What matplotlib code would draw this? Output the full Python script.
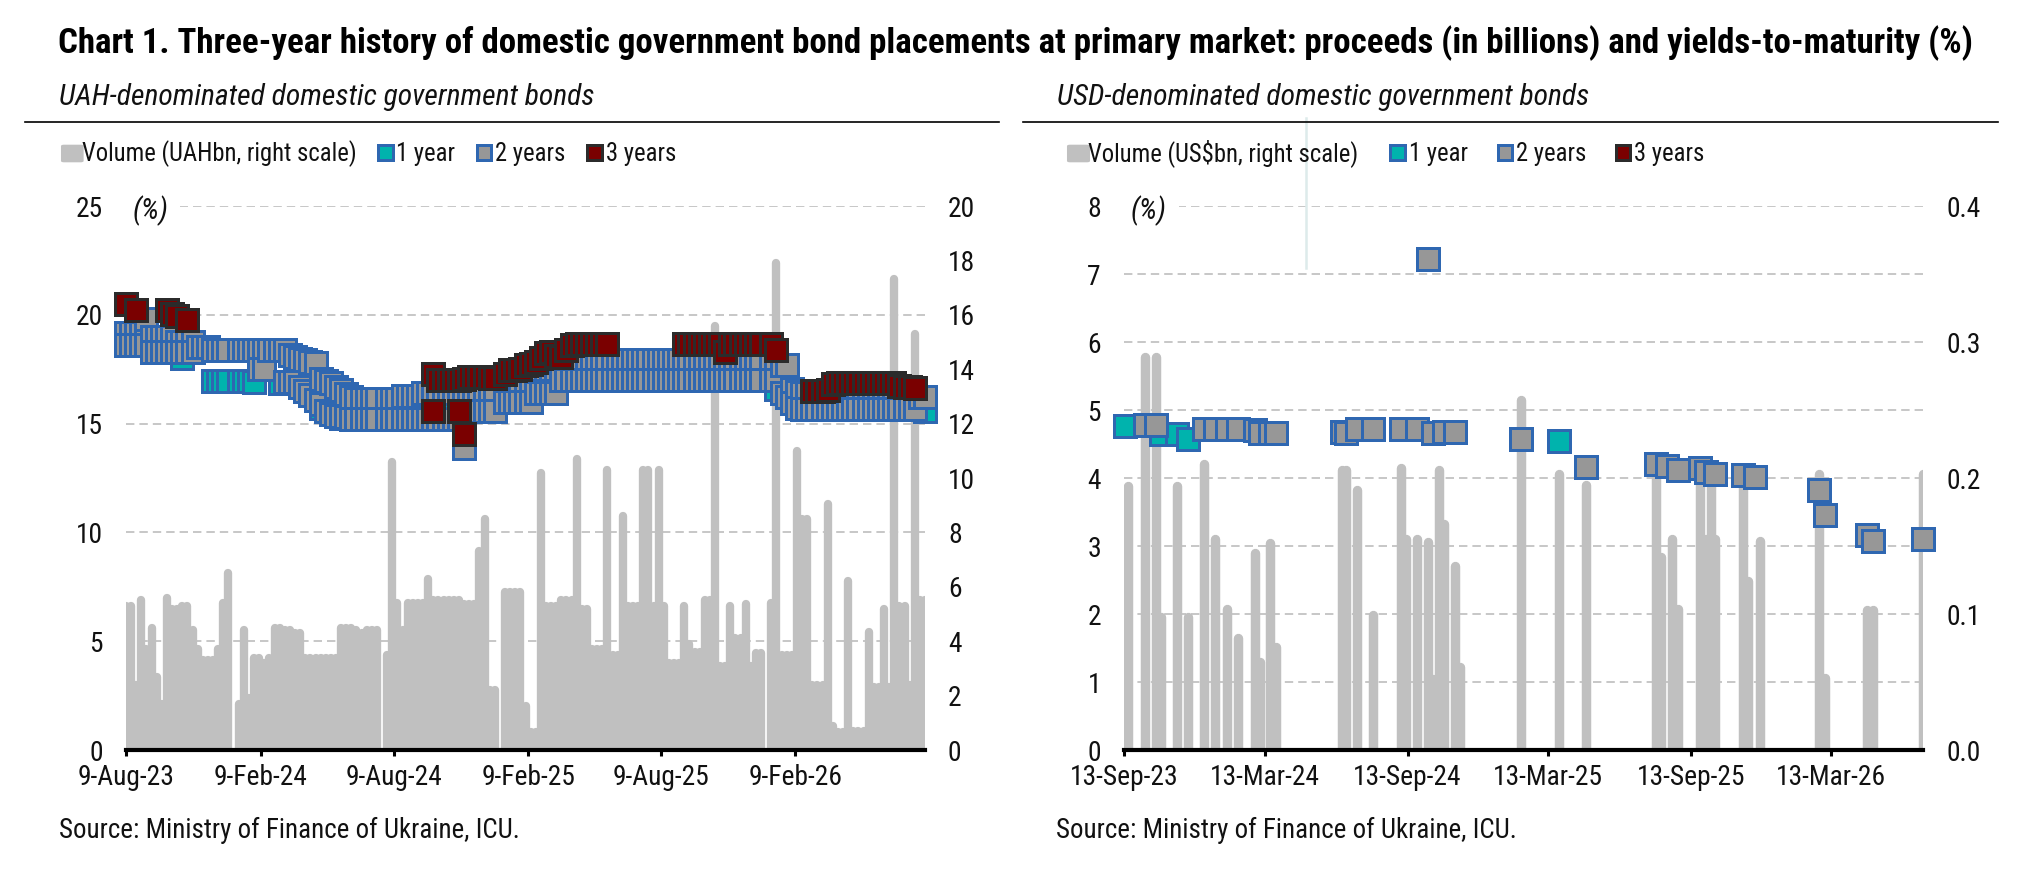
import numpy as np
import pandas as pd
import matplotlib
matplotlib.use("Agg")
import matplotlib.pyplot as plt
from matplotlib import font_manager as fm
from matplotlib.lines import Line2D
from matplotlib.patches import Rectangle, FancyBboxPatch
from matplotlib.transforms import blended_transform_factory

N = np.nan


def first_font(names):
    for n in names:
        try:
            fm.findfont(fm.FontProperties(family=n), fallback_to_default=False)
            return n
        except Exception:
            continue
    return "DejaVu Sans"


FONT = first_font(["Liberation Sans Narrow", "Roboto Condensed", "Liberation Sans"])
plt.rcParams["font.family"] = [FONT, "DejaVu Sans"]

# ======================= DATA =======================
TITLE = ("Chart 1. Three-year history of domestic government bond placements at primary market: "
         "proceeds (in billions) and yields-to-maturity (%)")
SUB_UAH = "UAH-denominated domestic government bonds"
SUB_USD = "USD-denominated domestic government bonds"
SOURCE = "Source: Ministry of Finance of Ukraine, ICU."
LEG_UAH = ["Volume (UAHbn, right scale)", "1 year", "2 years", "3 years"]
LEG_USD = ["Volume (US$bn, right scale)", "1 year", "2 years", "3 years"]

# ---- UAH panel: weekly auction calendar ----
uah_weeks = pd.date_range("2023-08-09", periods=157, freq="7D")

uah_volume = [
    5.3, 5.3, 2.4, 5.5, 3.7, 4.5, 2.7, 1.7, 5.6, 5.2,
    5.2, 5.3, 5.3, 4.4, 3.7, 3.3, 3.3, 3.3, 3.7, 5.4,
    6.5, N, 1.7, 4.4, 1.9, 3.4, 3.4, 3.2, 3.4, 4.5,
    4.5, 4.4, 4.4, 4.3, 4.3, 3.4, 3.4, 3.4, 3.4, 3.4,
    3.4, 3.4, 4.5, 4.5, 4.5, 4.4, 4.3, 4.4, 4.4, 4.4,
    N, 3.5, 10.6, 5.4, 4.4, 5.4, 5.4, 5.4, 5.4, 6.3,
    5.5, 5.5, 5.5, 5.5, 5.5, 5.5, 5.35, 5.35, 5.35, 7.3,
    8.5, 2.2, 2.2, N, 5.8, 5.8, 5.8, 5.8, 1.6, 0.65,
    0.65, 10.2, 5.3, 5.3, 5.3, 5.5, 5.5, 5.5, 10.7, 5.2,
    5.2, 3.7, 3.7, 3.7, 10.3, 3.5, 3.5, 8.6, 5.3, 5.3,
    5.3, 10.3, 10.3, 5.3, 10.3, 5.3, 3.2, 3.2, 3.2, 5.3,
    3.9, 3.6, 3.6, 5.5, 5.5, 15.6, 3.1, 3.1, 5.3, 4.1,
    4.1, 5.35, 3.1, 3.55, 3.55, N, 5.4, 17.9, 3.5, 3.5,
    3.5, 11.0, 8.5, 8.5, 2.4, 2.4, 2.4, 9.05, 0.9, 0.65,
    0.65, 6.2, 0.7, 0.7, 0.7, 4.35, 2.3, 2.3, 5.2, 2.3,
    17.3, 5.3, 5.3, 2.4, 15.3, 5.5, 5.5,
]

# 2-year yields, upper placement of the week
uah_2y_upper = [
    19.15, 19.15, 19.15, 19.15, 19.15, 19.0, 19.0, 19.0, 19.0, 19.0,
    18.75, 18.75, 18.75, 18.75, 18.5, 18.5, 18.5, 18.4, 18.4, 18.4,
    18.4, N, 18.4, 18.4, 18.4, 18.4, 18.4, 18.4, 18.4, 18.4,
    18.4, 18.4, 18.15, 18.05, 17.95, 17.9, 17.85, 17.8, 17.05, 16.95,
    16.85, 16.7, 16.55, 16.35, 16.2, 16.15, 16.15, 16.15, 16.15, 16.15,
    N, 16.15, 16.15, 16.15, 16.25, 16.25, 16.25, 16.25, 16.4, 16.4,
    16.4, 16.4, 16.4, 16.4, 16.4, 16.4, 16.4, 16.5, 16.5, 16.5,
    16.5, 16.5, 16.5, N, 16.7, 16.7, 16.7, 17.0, 17.0, 17.0,
    17.5, 17.5, 17.5, 17.5, 17.5, 17.9, 17.9, 17.9, 17.9, 17.9,
    17.9, 17.9, 17.9, 17.9, 17.9, 17.9, 17.9, 17.9, 17.9, 17.9,
    17.9, 17.9, 17.9, 17.9, 17.9, 17.9, 17.9, 17.9, 17.9, 17.9,
    17.9, 17.9, 17.9, 17.9, 17.9, 17.9, 17.9, 17.9, 17.9, 17.9,
    17.9, 17.9, 17.9, 17.9, 17.9, N, 17.9, 17.9, 17.7, 17.7,
    16.6, 16.45, 16.4, 16.4, 16.4, 16.4, 16.4, 16.4, 16.4, 16.4,
    16.4, 16.4, 16.4, 16.4, 16.4, 16.4, 16.4, 16.4, 16.4, 16.4,
    16.4, 16.4, 16.2, 16.2, 16.2, 16.2, 16.2,
]

# 2-year yields, lower placement of the week
uah_2y_lower = [
    18.6, 18.6, 18.6, 18.6, 18.6, 18.3, 18.3, 18.3, 18.3, 18.3,
    18.3, 18.3, 18.3, 18.3, N, N, N, N, N, N,
    N, N, N, N, N, N, 17.5, 17.5, N, N,
    N, 16.9, 16.9, 16.9, 16.7, 16.5, 16.3, 16.1, 15.9, 15.6,
    15.45, 15.35, 15.35, 15.3, 15.2, 15.2, 15.2, 15.2, 15.2, 15.2,
    N, 15.2, 15.2, 15.2, 15.2, 15.2, 15.2, 15.2, 15.2, 15.2,
    15.2, 15.2, 15.2, 15.2, 15.2, 15.2, 15.6, 15.6, 15.6, 15.6,
    15.6, 15.6, 15.6, N, 16.0, 16.0, 16.0, 16.0, 16.0, 16.0,
    16.4, 16.4, 16.4, 16.4, 16.4, 17.0, 17.0, 17.0, 17.0, 17.0,
    17.0, 17.0, 17.0, 17.0, 17.0, 17.0, 17.0, 17.0, 17.0, 17.0,
    17.0, 17.0, 17.0, 17.0, 17.0, 17.0, 17.0, 17.0, 17.0, 17.0,
    17.0, 17.0, 17.0, 17.0, 17.0, 17.0, 17.0, 17.0, 17.0, 17.0,
    17.0, 17.0, 17.0, 17.0, 17.0, N, 17.0, 17.0, 16.4, 16.2,
    15.95, 15.7, 15.65, 15.65, 15.65, 15.65, 15.65, 15.65, 15.65, 15.65,
    15.65, 15.65, 15.65, 15.65, 15.65, 15.65, 15.65, 15.65, 15.65, 15.65,
    15.65, 15.65, 15.65, 15.65, 15.65, N, N,
]

uah_2y_extra_dates = ["2023-09-06", "2024-11-13"]
uah_2y_extra = [19.8, 13.9]

# 3-year yields
uah_3y = [
    20.5, N, 20.2, N, N, N, N, N, 20.2, 20.05,
    19.95, N, 19.75, N, N, N, N, N, N, N,
    N, N, N, N, N, N, N, N, N, N,
    N, N, N, N, N, N, N, N, N, N,
    N, N, N, N, N, N, N, N, N, N,
    N, N, N, N, N, N, N, N, N, N,
    17.3, 17.0, 17.0, 17.0, 17.0, 17.0, 17.05, 17.15, 17.15, 17.15,
    17.15, 17.1, 17.1, N, 17.3, 17.45, 17.45, 17.5, 17.7, 17.75,
    17.85, 18.0, 18.25, 18.3, 18.1, 18.05, 18.4, 18.6, 18.67, 18.67,
    18.67, 18.67, 18.67, 18.67, 18.67, N, N, N, N, N,
    N, N, N, N, N, N, N, N, N, 18.67,
    18.67, 18.67, 18.67, 18.67, 18.67, 18.67, 18.67, 18.3, 18.67, 18.67,
    18.67, 18.67, 18.67, 18.67, 18.67, N, 18.67, 18.4, N, N,
    N, N, N, N, 16.5, 16.5, 16.5, 16.55, 16.8, 16.85,
    16.85, 16.85, 16.85, 16.85, 16.85, 16.85, 16.85, 16.85, 16.85, 16.85,
    16.85, 16.75, 16.7, 16.7, 16.65, N, N,
]
uah_3y_extra_dates = ["2024-10-02", "2024-11-06", "2024-11-13"]
uah_3y_extra = [15.6, 15.58, 14.5]

# 1-year yields (sparse)
uah_1y_dates = ["2023-10-25", "2023-12-06", "2023-12-13", "2023-12-20", "2023-12-27",
                "2024-01-10", "2024-01-17", "2024-01-24", "2024-01-31", "2024-03-06",
                "2024-05-01", "2024-05-29", "2024-06-05", "2024-10-16", "2026-01-14",
                "2026-01-21", "2026-08-05"]
uah_1y = [18.0, 16.95, 16.95, 16.95, 16.95,
          16.95, 16.95, 16.95, 16.9, 16.85,
          15.7, 15.25, 15.25, 15.4, 16.6,
          16.55, 15.6]

# ---- USD panel ----
usd_vol_dates = ["2023-09-14", "2023-09-19", "2023-10-10", "2023-10-25", "2023-10-31",
                 "2023-11-21", "2023-12-05", "2023-12-26", "2024-01-09", "2024-01-24",
                 "2024-02-07", "2024-02-29", "2024-03-06", "2024-03-20", "2024-03-27",
                 "2024-06-20", "2024-06-26", "2024-07-10", "2024-07-31", "2024-09-04",
                 "2024-09-11", "2024-09-25", "2024-10-09", "2024-10-16", "2024-10-23",
                 "2024-10-30", "2024-11-13", "2024-11-20", "2025-02-06", "2025-03-27",
                 "2025-05-01", "2025-07-30", "2025-08-06", "2025-08-20", "2025-08-28",
                 "2025-09-25", "2025-10-03", "2025-10-09", "2025-10-15", "2025-11-20",
                 "2025-11-26", "2025-12-11", "2026-02-26", "2026-03-05", "2026-04-29",
                 "2026-05-06", "2026-07-09"]
usd_volume = [0.146, 0.194, 0.289, 0.289, 0.098,
              0.194, 0.098, 0.210, 0.155, 0.104,
              0.082, 0.145, 0.065, 0.152, 0.076,
              0.206, 0.206, 0.191, 0.099, 0.207,
              0.155, 0.155, 0.153, 0.052, 0.206,
              0.166, 0.135, 0.061, 0.257, 0.203,
              0.195, 0.203, 0.142, 0.155, 0.104,
              0.200, 0.155, 0.198, 0.155, 0.197,
              0.124, 0.154, 0.203, 0.053, 0.103,
              0.103, 0.203]

usd_1y_dates = ["2023-09-14", "2023-10-31", "2023-11-21", "2023-12-05", "2025-03-27"]
usd_1y = [4.76, 4.64, 4.65, 4.57, 4.54]

usd_2y_dates = ["2023-10-10", "2023-10-25", "2023-12-26", "2024-01-09", "2024-01-24",
                "2024-02-07", "2024-02-29", "2024-03-06", "2024-03-20", "2024-03-27",
                "2024-06-20", "2024-06-26", "2024-07-10", "2024-07-31", "2024-09-04",
                "2024-09-25", "2024-10-09", "2024-10-16", "2024-10-30", "2024-11-13",
                "2025-02-06", "2025-05-01", "2025-07-30", "2025-08-13", "2025-08-28",
                "2025-09-25", "2025-10-03", "2025-10-15", "2025-11-20", "2025-12-05",
                "2026-02-26", "2026-03-05", "2026-04-29", "2026-05-06", "2026-07-09"]
usd_2y = [4.78, 4.78, 4.72, 4.72, 4.72,
          4.72, 4.70, 4.66, 4.66, 4.66,
          4.68, 4.66, 4.72, 4.72, 4.72,
          4.72, 7.22, 4.66, 4.67, 4.67,
          4.58, 4.16, 4.20, 4.18, 4.12,
          4.14, 4.09, 4.06, 4.04, 4.02,
          3.83, 3.46, 3.16, 3.07, 3.11]

uah_xticks = ["2023-08-09", "2024-02-09", "2024-08-09", "2025-02-09", "2025-08-09", "2026-02-09"]
uah_xticklabels = ["9-Aug-23", "9-Feb-24", "9-Aug-24", "9-Feb-25", "9-Aug-25", "9-Feb-26"]
usd_xticks = ["2023-09-13", "2024-03-13", "2024-09-13", "2025-03-13", "2025-09-13", "2026-03-13"]
usd_xticklabels = ["13-Sep-23", "13-Mar-24", "13-Sep-24", "13-Mar-25", "13-Sep-25", "13-Mar-26"]

uah_yield_ticks = [0, 5, 10, 15, 20, 25]
uah_vol_ticks = [0, 2, 4, 6, 8, 10, 12, 14, 16, 18, 20]
usd_yield_ticks = [0, 1, 2, 3, 4, 5, 6, 7, 8]
usd_vol_ticks = [0.0, 0.1, 0.2, 0.3, 0.4]

# ======================= STYLE =======================
TEAL = "#00B3AD"
BLUE = "#2F67B1"
GRAY2 = "#979797"
RED3 = "#7A0000"
EDGE3 = "#2B2B2B"
VOLC = "#C0C0C0"
GRID = "#C8C8C8"
TXT = "#111111"

W, H = 2022, 871
fig = plt.figure(figsize=(W / 100, H / 100), dpi=100)
fig.patch.set_facecolor("white")
renderer = fig.canvas.get_renderer()


def fx(x):
    return x / W


def fy(y):
    return 1 - y / H


def size_for(text, target_w, base=20, **kw):
    t = fig.text(0, 0, text, fontsize=base, **kw)
    w = t.get_window_extent(renderer).width
    t.remove()
    return base * target_w / w


TS = size_for("9-Aug-23", 97)
LS = size_for("Volume (UAHbn, right scale)", 274)
MS_PT = 15.8
MEW_PT = 2.16


def merge(*pairs):
    d = np.concatenate([np.asarray(pd.to_datetime(p[0]), dtype="datetime64[ns]") for p in pairs])
    v = np.concatenate([np.asarray(p[1], dtype=float) for p in pairs])
    o = np.argsort(d, kind="stable")
    return pd.to_datetime(d[o]), v[o]


def panel(x0, x1, xlim, vol_dates, vol_vals, vol_lim, vol_ticks, vol_labels,
          y_lim, y_ticks, grid_vals, xticks, xticklabels, series, vol_lw):
    rect = [fx(x0), fy(750), fx(x1) - fx(x0), fy(206) - fy(750)]
    axv = fig.add_axes(rect)
    axy = fig.add_axes(rect, sharex=axv)
    axy.patch.set_visible(False)
    for s in axv.spines.values():
        s.set_visible(False)
    trans = blended_transform_factory(axv.transAxes, axy.transData)
    for g in grid_vals:
        axv.add_line(Line2D([0, 1], [g, g], transform=trans, color=GRID, lw=1.44,
                            ls=(0, (4.2, 2.5)), zorder=0.5))
    d = pd.to_datetime(vol_dates)
    v = np.asarray(vol_vals, dtype=float)
    m = ~np.isnan(v)
    lc = axv.vlines(d[m], 0, v[m], colors=VOLC, linewidth=vol_lw, zorder=2)
    lc.set_capstyle("round")
    axv.set_ylim(*vol_lim)
    axv.yaxis.tick_right()
    axv.set_yticks(vol_ticks)
    axv.set_yticklabels(vol_labels)
    axv.tick_params(axis="y", length=0, pad=16.5, labelsize=TS, labelcolor=TXT)
    axv.xaxis.set_visible(False)

    for dates, vals, fc, ec in series:
        axy.plot(dates, vals, ls="none", marker="s", ms=MS_PT, mfc=fc, mec=ec,
                 mew=MEW_PT, clip_on=False, zorder=3)
    axy.set_ylim(*y_lim)
    axy.set_yticks(y_ticks)
    axy.set_yticklabels([str(t) for t in y_ticks])
    axy.tick_params(axis="y", length=0, pad=16.5, labelsize=TS, labelcolor=TXT)
    axy.set_xlim(pd.Timestamp(xlim[0]), pd.Timestamp(xlim[1]))
    axy.set_xticks(pd.to_datetime(xticks))
    axy.set_xticklabels(xticklabels)
    axy.tick_params(axis="x", direction="out", length=4, width=2.2, pad=6,
                    labelsize=TS, labelcolor=TXT, color="black")
    for side in ("top", "left", "right"):
        axy.spines[side].set_visible(False)
    axy.spines["bottom"].set_linewidth(3.0)
    axy.spines["bottom"].set_color("black")
    return axv, axy


# ---- UAH panel ----
d2, v2 = merge((uah_weeks, uah_2y_upper), (uah_weeks, uah_2y_lower),
               (uah_2y_extra_dates, uah_2y_extra))
d3, v3 = merge((uah_weeks, uah_3y), (uah_3y_extra_dates, uah_3y_extra))
d1, v1 = merge((uah_1y_dates, uah_1y))
panel(126, 925, ("2023-08-09", "2026-08-05"), uah_weeks, uah_volume, (0, 20), uah_vol_ticks,
      [str(t) for t in uah_vol_ticks], (0, 25), uah_yield_ticks, [5, 10, 15, 20, 25],
      uah_xticks, uah_xticklabels,
      [(d1, v1, TEAL, BLUE), (d2, v2, GRAY2, BLUE), (d3, v3, RED3, EDGE3)], vol_lw=6.0)

# ---- USD panel ----
e1, w1 = merge((usd_1y_dates, usd_1y))
e2, w2 = merge((usd_2y_dates, usd_2y))
panel(1123.8, 1923.3, ("2023-09-13", "2026-07-10"), usd_vol_dates, usd_volume, (0, 0.4),
      usd_vol_ticks, ["%.1f" % t for t in usd_vol_ticks], (0, 8), usd_yield_ticks,
      [1, 2, 3, 4, 5, 6, 7, 8], usd_xticks, usd_xticklabels,
      [(e1, w1, TEAL, BLUE), (e2, w2, GRAY2, BLUE)], vol_lw=6.8)

# ======================= TEXT & DECOR =======================
fs_title = size_for(TITLE, 1913, fontweight="bold")
fig.text(fx(58), fy(53.5), TITLE, fontsize=fs_title, fontweight="bold", color="black",
         va="baseline", ha="left")
fs_sub = size_for(SUB_UAH, 535, fontstyle="italic")
fig.text(fx(59), fy(105), SUB_UAH, fontsize=fs_sub, fontstyle="italic", color=TXT,
         va="baseline", ha="left")
fig.text(fx(1057), fy(105), SUB_USD, fontsize=fs_sub, fontstyle="italic", color=TXT,
         va="baseline", ha="left")

for xa, xb in ((24.5, 999), (1022.6, 1997.5)):
    fig.add_artist(Line2D([fx(xa), fx(xb)], [fy(122), fy(122)], color="black", lw=1.2,
                          transform=fig.transFigure))

# stray light vertical line in right panel
fig.add_artist(Line2D([fx(1305.6), fx(1305.6)], [fy(118), fy(268)], color="#DDEBEB", lw=1.8,
                      transform=fig.transFigure, zorder=0.1))

# (%) labels
fs_pct = size_for("(%)", 36, fontstyle="italic")
for xl, xr, xc in ((126, 180, 150), (1122, 1178.6, 1148)):
    fig.add_artist(Rectangle((fx(xl), fy(216)), fx(xr) - fx(xl), fy(196) - fy(216),
                             transform=fig.transFigure, fc="white", ec="none", zorder=5))
    fig.text(fx(xc), fy(211), "(%)", fontsize=fs_pct, fontstyle="italic", color=TXT,
             ha="center", va="center", zorder=6)


def legend(items, labels):
    # items: list of (x_left, x_right, kind, text_x)
    for (xl, xr, kind, tx), lab in zip(items, labels):
        if kind == "vol":
            p = FancyBboxPatch((fx(xl + 3), fy(161)), fx(xr - 3) - fx(xl), fy(146) - fy(161),
                               boxstyle="round,pad=0.0015", transform=fig.transFigure,
                               fc=VOLC, ec="none")
        else:
            fc, ec = {"1y": (TEAL, BLUE), "2y": (GRAY2, BLUE), "3y": (RED3, EDGE3)}[kind]
            p = Rectangle((fx(xl + 1.5), fy(162 - 1.5)), fx(xr - 1.5) - fx(xl + 1.5),
                          fy(144 + 1.5) - fy(162 - 1.5), transform=fig.transFigure,
                          fc=fc, ec=ec, lw=2.16)
        fig.add_artist(p)
        fig.text(fx(tx), fy(161.5), lab, fontsize=LS, color=TXT, ha="left", va="baseline")


legend([(61, 80.6, "vol", 82.5), (376, 394, "1y", 396), (475, 493, "2y", 495),
        (585, 603, "3y", 606)], LEG_UAH)
legend([(1067, 1087, "vol", 1088), (1388, 1406, "1y", 1409), (1496, 1513.5, "2y", 1516),
        (1614.5, 1632, "3y", 1634.5)], LEG_USD)

fs_src = size_for(SOURCE, 460)
fig.text(fx(59), fy(838), SOURCE, fontsize=fs_src, color=TXT, ha="left", va="baseline")
fig.text(fx(1056), fy(838), SOURCE, fontsize=fs_src, color=TXT, ha="left", va="baseline")

fig.savefig("out.png", dpi=100, facecolor="white")
